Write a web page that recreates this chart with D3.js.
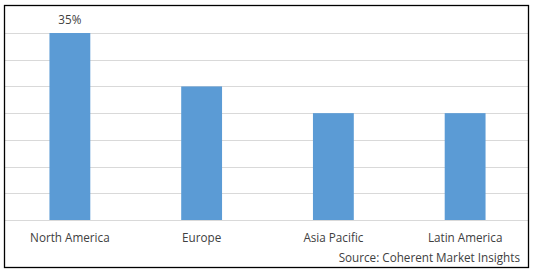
<!DOCTYPE html>
<html><head><meta charset="utf-8">
<script src="https://cdn.jsdelivr.net/npm/d3@7"></script>
<style>html,body{margin:0;padding:0;background:#fff;}svg{display:block;}</style>
</head><body>
<script>
const categories = ["North America", "Europe", "Asia Pacific", "Latin America"];
const values = [35, 25, 20, 20];
const labelText = ["35%", "", "", ""];
const gridTicks = [0, 5, 10, 15, 20, 25, 30, 35];
const sourceText = "Source: Coherent Market Insights";

const W = 538, H = 272;
const svg = d3.select("body").append("svg").attr("width", W).attr("height", H);
const font = "'Open Sans', sans-serif";
const fs = 11.7;

const x = d3.scaleBand().domain(categories).range([4, 531]).paddingInner(0.69).paddingOuter(0.345);
const y = d3.scaleLinear().domain([0, 40]).range([220, 6.3]);

svg.append("g").selectAll("line").data(gridTicks).join("line")
  .attr("x1", 4).attr("x2", 529)
  .attr("y1", d => Math.round(y(d)) + 0.5).attr("y2", d => Math.round(y(d)) + 0.5)
  .attr("stroke", "#d9d9d9").attr("stroke-width", 1);

svg.append("g").selectAll("rect").data(values).join("rect")
  .attr("x", (d, i) => x(categories[i]))
  .attr("width", x.bandwidth())
  .attr("y", d => y(d))
  .attr("height", d => y(0) - y(d))
  .attr("fill", "#5b9bd5");

svg.append("g").selectAll("text").data(values).join("text")
  .attr("x", (d, i) => x(categories[i]) + x.bandwidth() / 2)
  .attr("y", d => y(d) - 9)
  .attr("text-anchor", "middle")
  .attr("font-family", font).attr("font-size", fs).attr("fill", "#404040")
  .text((d, i) => labelText[i]);

const xAxis = d3.axisBottom(x).tickSize(0).tickPadding(0);
const gx = svg.append("g").attr("transform", "translate(0,220)").call(xAxis);
gx.select(".domain").remove();
gx.selectAll("text").attr("y", 22).attr("dy", 0)
  .attr("font-family", font).attr("font-size", fs).attr("fill", "#404040");

svg.append("text").attr("x", 520).attr("y", 262).attr("text-anchor", "end")
  .attr("font-family", font).attr("font-size", fs).attr("fill", "#404040").text(sourceText);

svg.append("rect").attr("x", 4.5).attr("y", 5.5).attr("width", 524).attr("height", 262)
  .attr("fill", "none").attr("stroke", "#000").attr("stroke-width", 1.3);
</script>
</body></html>
